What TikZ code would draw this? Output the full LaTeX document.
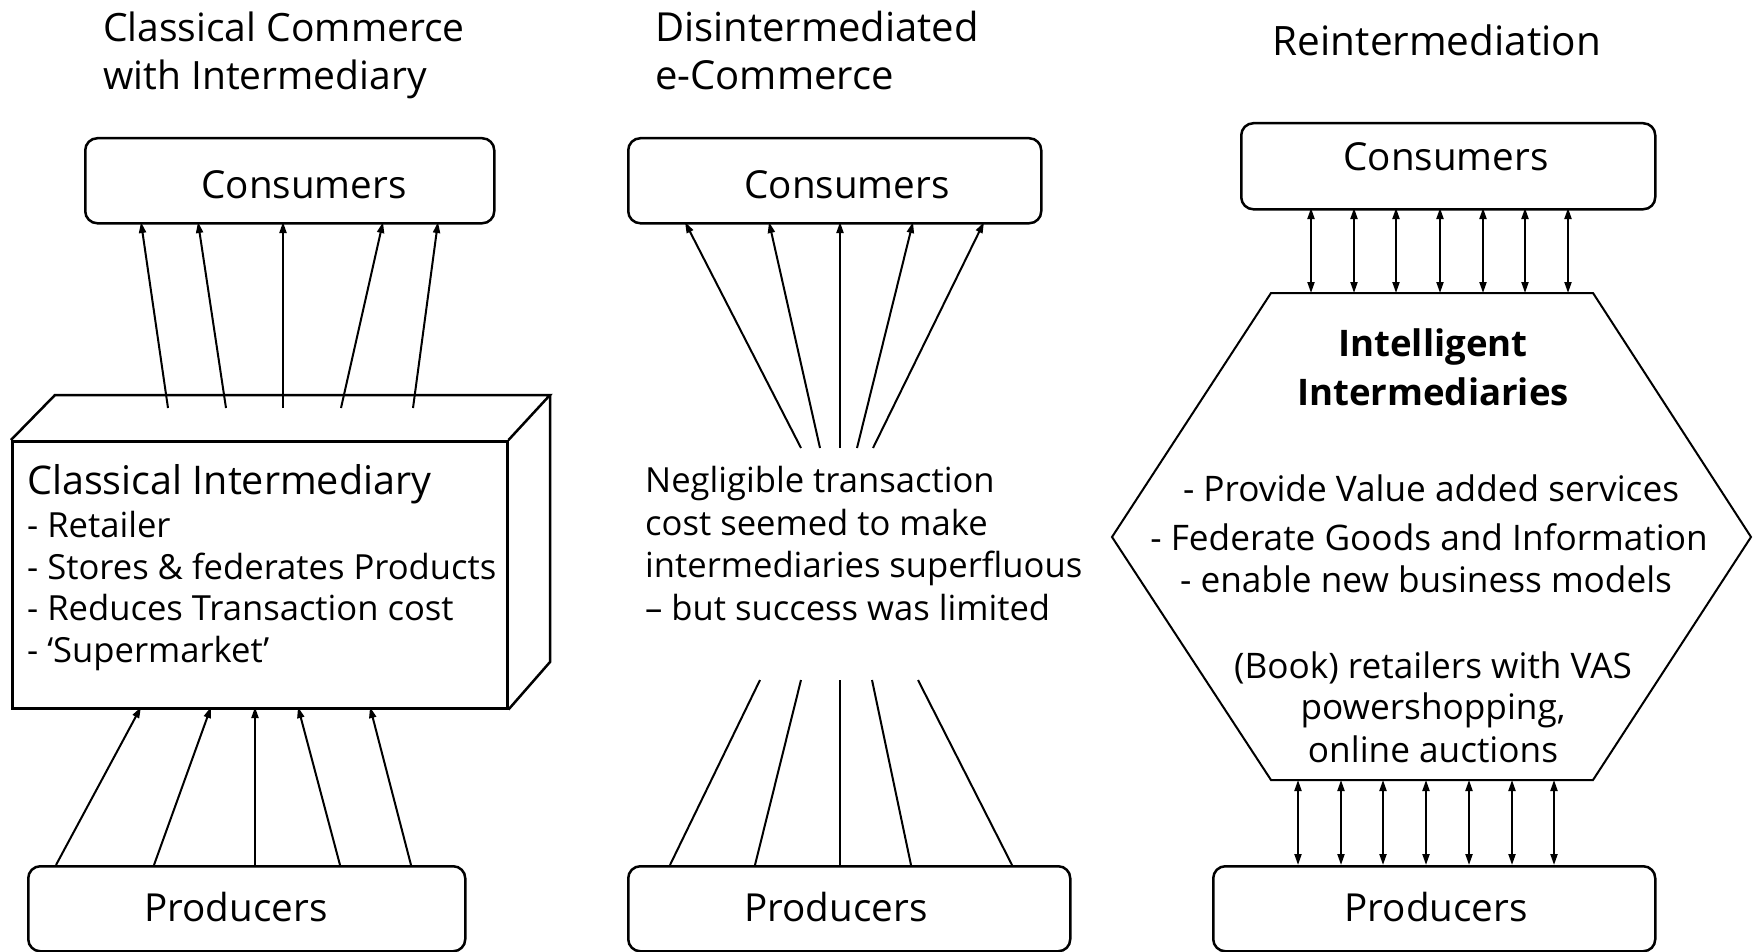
\documentclass[tikz,border=0pt]{standalone}
\usepackage{fontspec}
\setmainfont{Open Sans}
\usetikzlibrary{arrows.meta}
\begin{document}
\begin{tikzpicture}[x=1pt,y=-1pt,
  box/.style={draw, line width=2.5pt, rounded corners=12pt, inner sep=0pt},
  solid3d/.style={draw, line width=2.5pt, line join=miter},
  conn/.style={line width=2pt, -{Triangle[length=11pt,width=7pt]}},
  plainln/.style={line width=2pt},
  dbl/.style={line width=2pt, {Triangle[length=11pt,width=7pt]}-{Triangle[length=11pt,width=7pt]}},
  ttla/.style={inner sep=0pt, font=\fontsize{39}{46}\selectfont},
  ttlb/.style={inner sep=0pt, font=\fontsize{40}{46}\selectfont},
  ttlc/.style={inner sep=0pt, font=\fontsize{40.5}{46}\selectfont},
  lbl/.style={inner sep=0pt, font=\fontsize{38.6}{46}\selectfont},
  itm/.style={inner sep=0pt, font=\fontsize{34.6}{40}\selectfont},
  itmb/.style={inner sep=0pt, font=\fontsize{34.6}{40}\selectfont},
  hd/.style={inner sep=0pt, font=\fontsize{39.5}{46}\selectfont},
  hdb/.style={inner sep=0pt, font=\fontsize{36.6}{46}\bfseries\selectfont},
  hx/.style={inner sep=0pt, font=\fontsize{35.2}{40}\selectfont}
]
\useasboundingbox[fill=white] (0,0) rectangle (1755,952);

% ---------------- Panel 1 ----------------
\node[ttla, anchor=base west] (t1a) at (103,42) {Classical Commerce};
\node[ttla, anchor=base west] (t1b) at (103,90) {with Intermediary};

\node[box, anchor=north west, minimum width=409pt, minimum height=85pt] (cons1) at (84,137) {};
\node[lbl, anchor=base] (cons1t) at (304,199) {Consumers};

\node[box, anchor=north west, minimum width=437pt, minimum height=85pt] (prod1) at (27,865) {};
\node[lbl, anchor=base] (prod1t) at (236,921) {Producers};

% 3D box
\node[solid3d, anchor=north west, minimum width=495pt, minimum height=267pt, inner sep=0pt] (ci) at (11,440) {};
\draw[solid3d] (ci.north west) -- (55,395) coordinate (cib1) -- (550,395) coordinate (cib2) -- (ci.north east);
\draw[solid3d] (cib2) -- (550,662) coordinate (cib3) -- (ci.south east);

\node[hd, anchor=base west] (cih) at (27,494) {Classical Intermediary};
\node[itm, anchor=base west] (ci1) at (27,537) {- Retailer};
\node[itm, anchor=base west] (ci2) at (27,579) {- Stores \& federates Products};
\node[itm, anchor=base west] (ci3) at (27,620) {- Reduces Transaction cost};
\node[itm, anchor=base west] (ci4) at (27,662) {- ‘Supermarket’};

% arrows box -> consumers
\foreach \xb/\xt [count=\i] in {168/141, 226/198, 283/283, 341/383, 413/438} {
  \coordinate (u1s\i) at (\xb,408);
  \coordinate (u1e\i) at (\xt,222);
  \draw[conn] (u1s\i) -- (u1e\i);
}
% arrows producers -> box
\foreach \xb/\xt [count=\i] in {56/141, 154/211, 255/255, 340/298, 411/370} {
  \coordinate (l1s\i) at (\xb,865);
  \coordinate (l1e\i) at (\xt,707);
  \draw[conn] (l1s\i) -- (l1e\i);
}

% ---------------- Panel 2 ----------------
\node[ttlb, anchor=base west] (t2a) at (655,42) {Disintermediated};
\node[ttlb, anchor=base west] (t2b) at (655,90) {e-Commerce};

\node[box, anchor=north west, minimum width=413pt, minimum height=85pt] (cons2) at (627,137) {};
\node[lbl, anchor=base] (cons2t) at (847,199) {Consumers};

\node[box, anchor=north west, minimum width=442pt, minimum height=85pt] (prod2) at (627,865) {};
\node[lbl, anchor=base] (prod2t) at (836,921) {Producers};

\node[itmb, anchor=base west] (dt1) at (645,492) {Negligible transaction};
\node[itmb, anchor=base west] (dt2) at (645,535) {cost seemed to make};
\node[itmb, anchor=base west] (dt3) at (645,577) {intermediaries superfluous};
\node[itmb, anchor=base west] (dt4) at (645,620) {– but success was limited};

\foreach \xb/\xt [count=\i] in {801/685, 820/769, 840/840, 857/913, 873/984} {
  \coordinate (u2s\i) at (\xb,448);
  \coordinate (u2e\i) at (\xt,222);
  \draw[conn] (u2s\i) -- (u2e\i);
}
\foreach \xt/\xb [count=\i] in {760/670, 801/755, 840/840, 872/911, 918/1012} {
  \coordinate (l2s\i) at (\xt,680);
  \coordinate (l2e\i) at (\xb,865);
  \draw[plainln] (l2s\i) -- (l2e\i);
}

% ---------------- Panel 3 ----------------
\node[ttlc, anchor=base] (t3) at (1437,56) {Reintermediation};

\node[box, anchor=north west, minimum width=414pt, minimum height=86pt] (cons3) at (1240,122) {};
\node[lbl, anchor=base] (cons3t) at (1446,171) {Consumers};

\node[box, anchor=north west, minimum width=442pt, minimum height=85pt] (prod3) at (1212,865) {};
\node[lbl, anchor=base] (prod3t) at (1436,921) {Producers};

\draw[line width=2pt, line join=miter] (1271,293) coordinate (hx1) -- (1593,293) coordinate (hx2)
  -- (1751,537) coordinate (hx3) -- (1593,780) coordinate (hx4) -- (1271,780) coordinate (hx5)
  -- (1112,537) coordinate (hx6) -- cycle;

\node[hdb, anchor=base] (ii1) at (1433,356) {Intelligent};
\node[hdb, anchor=base] (ii2) at (1433,405) {Intermediaries};
\node[hx, anchor=base] (ib1) at (1431,501) {- Provide Value added services};
\node[hx, anchor=base] (ib2) at (1429,550) {- Federate Goods and Information};
\node[hx, anchor=base] (ib3) at (1426,592) {- enable new business models};
\node[hx, anchor=base] (ib4) at (1433,678) {(Book) retailers with VAS};
\node[hx, anchor=base] (ib5) at (1433,719) {powershopping,};
\node[hx, anchor=base] (ib6) at (1433,762) {online auctions};

\foreach \x [count=\i] in {1311,1354,1396,1440,1483,1525,1568} {
  \coordinate (d3t\i) at (\x,208);
  \coordinate (d3b\i) at (\x,293);
  \draw[dbl] (d3t\i) -- (d3b\i);
}
\foreach \x [count=\i] in {1298,1341,1383,1426,1469,1512,1554} {
  \coordinate (e3t\i) at (\x,780);
  \coordinate (e3b\i) at (\x,865);
  \draw[dbl] (e3t\i) -- (e3b\i);
}
\end{tikzpicture}
\end{document}
